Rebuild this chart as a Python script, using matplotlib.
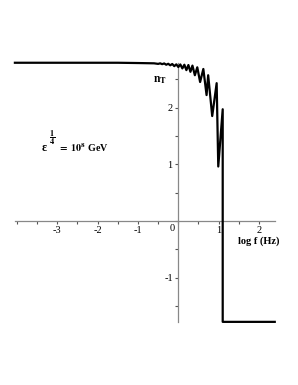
import matplotlib
matplotlib.use("Agg")
import matplotlib.pyplot as plt
from matplotlib.ticker import MultipleLocator, FixedLocator

plt.rcParams['font.family'] = ['Liberation Serif', 'DejaVu Serif']
plt.rcParams['mathtext.fontset'] = 'stix'

# curve vertices: log f (Hz) vs n_T
log_f = [-4.05, -1.5, -1.0, -0.6, -0.5, -0.45, -0.4, -0.35, -0.3, -0.25,
         -0.2, -0.15, -0.1, -0.05, 0.0, 0.05, 0.1, 0.15, 0.2, 0.25,
         0.3, 0.35, 0.41, 0.47, 0.54, 0.62, 0.70, 0.74, 0.84, 0.95,
         0.99, 1.10, 1.10, 2.39]
n_t = [2.79, 2.79, 2.785, 2.78, 2.770, 2.780, 2.765, 2.778, 2.755, 2.772,
       2.745, 2.768, 2.73, 2.762, 2.715, 2.76, 2.69, 2.755, 2.66, 2.75,
       2.63, 2.74, 2.57, 2.71, 2.45, 2.68, 2.22, 2.57, 1.85, 2.43,
       0.96, 1.97, -1.78, -1.78]

x_ticks = [-3, -2, -1, 1, 2]
y_ticks = [-1, 1, 2]

fig = plt.figure(figsize=(2.98, 3.85), dpi=100)
ax = fig.add_axes([0.050, 0.164, 0.872, 0.673])

ax.plot(log_f, n_t, color='black', lw=1.6, clip_on=False, zorder=3)

ax.set_xlim(-4.05, 2.39)
ax.set_ylim(-1.78, 2.79)

for s in ['top', 'right']:
    ax.spines[s].set_visible(False)
for s in ['left', 'bottom']:
    ax.spines[s].set_position('zero')
    ax.spines[s].set_color('#888888')
    ax.spines[s].set_linewidth(0.9)

ax.xaxis.set_major_locator(FixedLocator(x_ticks))
ax.xaxis.set_minor_locator(MultipleLocator(0.5))
ax.yaxis.set_major_locator(FixedLocator(y_ticks))
ax.yaxis.set_minor_locator(MultipleLocator(0.5))
ax.tick_params(which='both', direction='out', length=2, width=0.8,
               color='#555555', labelsize=7.5, pad=2)
ax.set_xticklabels([str(t) for t in x_ticks])
ax.set_yticklabels([str(t) for t in y_ticks])

ax.text(-0.08, -0.05, '0', fontsize=7.5, ha='right', va='top')
ax.text(2.0, -0.28, 'log f (Hz)', fontsize=7.5, fontweight='bold',
        ha='center', va='top')
ax.text(-0.45, 2.48, r'$\mathbf{n_T}$', fontsize=8.5, ha='center',
        va='center')

# epsilon^(1/4) = 10^8 GeV, built from three pieces
ax.text(-3.40, 1.29, '\u03b5', fontsize=8.5, fontweight='bold',
        ha='left', va='center')
ax.text(-3.13, 1.46, r'$\dfrac{\mathbf{1}}{\mathbf{4}}$', fontsize=6,
        ha='center', va='center')
ax.text(-2.99, 1.29, r'$\mathbf{=\ 10^8}$ GeV', fontsize=7.2,
        fontweight='bold', ha='left', va='center')

fig.savefig('out.png', dpi=100)
